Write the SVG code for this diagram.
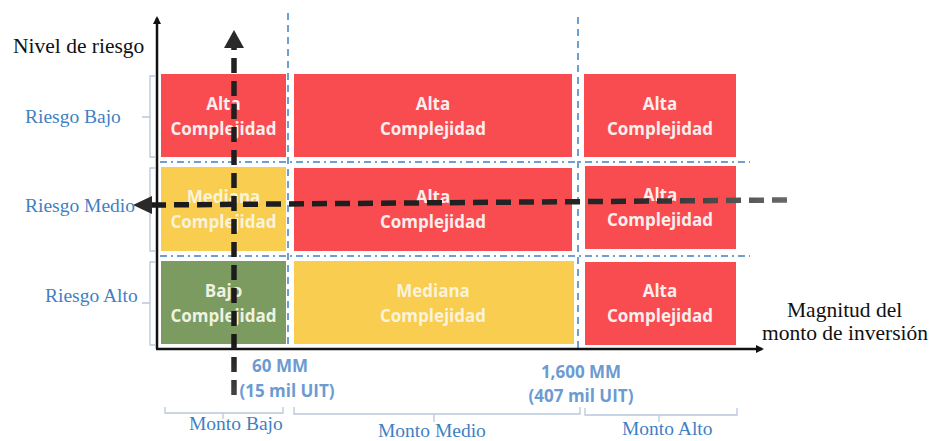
<svg xmlns="http://www.w3.org/2000/svg" width="930" height="441" viewBox="0 0 930 441">
<style>
.cell text{font-family:"Open Sans","Liberation Sans",sans-serif;font-weight:700;font-size:17px;text-anchor:middle;}
.red{fill:#f94c50;}
.yel{fill:#f9cd4f;}
.grn{fill:#7b9b60;}
.wt{fill:#fbeeee;}
.yt{fill:#fbf3dc;}
.gt{fill:#eef2e0;}
.ser{font-family:"Liberation Serif","Times New Roman",serif;}
.blk{fill:#111;font-size:21.5px;}
.blu{fill:#3f7fc4;font-size:19.5px;}
.amt{font-family:"Open Sans","Liberation Sans",sans-serif;font-weight:700;font-size:17px;fill:#6c9bd2;text-anchor:middle;}
.grid{stroke:#6f9fd0;stroke-width:2;fill:none;}
.brk{stroke:#b9c8dc;stroke-width:1.3;fill:none;}
.axis{stroke:#111;stroke-width:2.5;fill:none;}
.dash{stroke-width:5.5;stroke-dasharray:15 8;fill:none;}
</style>
<defs>
<marker id="ah" markerWidth="8" markerHeight="8" refX="6" refY="4" orient="auto" markerUnits="userSpaceOnUse">
<path d="M0,0 L8,4 L0,8 Z" fill="#111"/>
</marker>
<linearGradient id="hg" gradientUnits="userSpaceOnUse" x1="150" y1="0" x2="790" y2="0">
<stop offset="0" stop-color="#1a1a1a"/>
<stop offset="0.75" stop-color="#262626"/>
<stop offset="1" stop-color="#6a6a6a"/>
</linearGradient>
<linearGradient id="vg" gradientUnits="userSpaceOnUse" x1="0" y1="45" x2="0" y2="396">
<stop offset="0" stop-color="#222"/>
<stop offset="0.85" stop-color="#1a1a1a"/>
<stop offset="1" stop-color="#444"/>
</linearGradient>
</defs>
<rect width="930" height="441" fill="#fff"/>

<g id="c11" class="cell"><rect class="red" x="161" y="74" width="125" height="83"/><text class="wt" x="223.5" y="110">Alta</text><text class="wt" x="223.5" y="135">Complejidad</text></g>
<g id="c12" class="cell"><rect class="red" x="294" y="74" width="278" height="83"/><text class="wt" x="433" y="110">Alta</text><text class="wt" x="433" y="135">Complejidad</text></g>
<g id="c13" class="cell"><rect class="red" x="584" y="74" width="152" height="83"/><text class="wt" x="660" y="110">Alta</text><text class="wt" x="660" y="135">Complejidad</text></g>

<g id="c21" class="cell"><rect class="yel" x="161" y="167" width="125" height="84"/><text class="yt" x="223.5" y="203">Mediana</text><text class="yt" x="223.5" y="228">Complejidad</text></g>
<g id="c22" class="cell"><rect class="red" x="294" y="168" width="278" height="83"/><text class="wt" x="433" y="203">Alta</text><text class="wt" x="433" y="228">Complejidad</text></g>
<g id="c23" class="cell"><rect class="red" x="585" y="166" width="151" height="83"/><text class="wt" x="660" y="201">Alta</text><text class="wt" x="660" y="226">Complejidad</text></g>

<g id="c31" class="cell"><rect class="grn" x="161" y="261" width="125" height="83"/><text class="gt" x="223.5" y="297">Bajo</text><text class="gt" x="223.5" y="322">Complejidad</text></g>
<g id="c32" class="cell"><rect class="yel" x="294" y="261" width="280" height="83"/><text class="yt" x="433" y="297">Mediana</text><text class="yt" x="433" y="322">Complejidad</text></g>
<g id="c33" class="cell"><rect class="red" x="585" y="262" width="151" height="83"/><text class="wt" x="660" y="297">Alta</text><text class="wt" x="660" y="322">Complejidad</text></g>

<g id="gridlines">
<path class="grid" d="M160,162 H750 M160,256 H750" stroke-dasharray="7 4 2 4"/>
<path class="grid" d="M288,13 V350 M578,17 V352" stroke-dasharray="7 5"/>
</g>

<g id="brackets">
<path class="brk" d="M155,76 H150 V157 H155 M150,117 H142"/>
<path class="brk" d="M155,168 H150 V251 H155 M150,209 H142"/>
<path class="brk" d="M155,262 H150 V345 H155 M150,303 H142"/>
<path class="brk" d="M165,407 V413 H283 V407 M223,413 V419"/>
<path class="brk" d="M294,407 V414 H580 V407 M434,414 V422"/>
<path class="brk" d="M585,408 V415 H737 V408 M659,415 V422"/>
</g>

<g id="connectors">
<line class="axis" x1="157" y1="349" x2="157" y2="18" marker-end="url(#ah)"/>
<line class="axis" x1="156" y1="349" x2="762" y2="349" marker-end="url(#ah)"/>
<line class="dash" x1="787" y1="200" x2="152" y2="205" stroke="url(#hg)"/>
<path d="M133,205 L152,196 L152,214 Z" fill="#2a2a2a"/>
<line class="dash" x1="234" y1="395" x2="234" y2="47" stroke="url(#vg)"/>
<path d="M234,30 L224,48 L244,48 Z" fill="#2a2a2a"/>
</g>

<g id="labels">
<text class="ser blk" x="13" y="53">Nivel de riesgo</text>
<text class="ser blu" x="25" y="123">Riesgo Bajo</text>
<text class="ser blu" x="25" y="212">Riesgo Medio</text>
<text class="ser blu" x="45" y="302">Riesgo Alto</text>
<text class="ser blk" x="787" y="317">Magnitud del</text>
<text class="ser blk" x="762" y="340">monto de inversión</text>
<text class="amt" x="280" y="372">60 MM</text>
<text class="amt" x="287" y="397">(15 mil UIT)</text>
<text class="amt" x="581" y="378">1,600 MM</text>
<text class="amt" x="581" y="402">(407 mil UIT)</text>
<text class="ser blu" x="189" y="430">Monto Bajo</text>
<text class="ser blu" x="378" y="437">Monto Medio</text>
<text class="ser blu" x="622" y="435">Monto Alto</text>
</g>
</svg>
